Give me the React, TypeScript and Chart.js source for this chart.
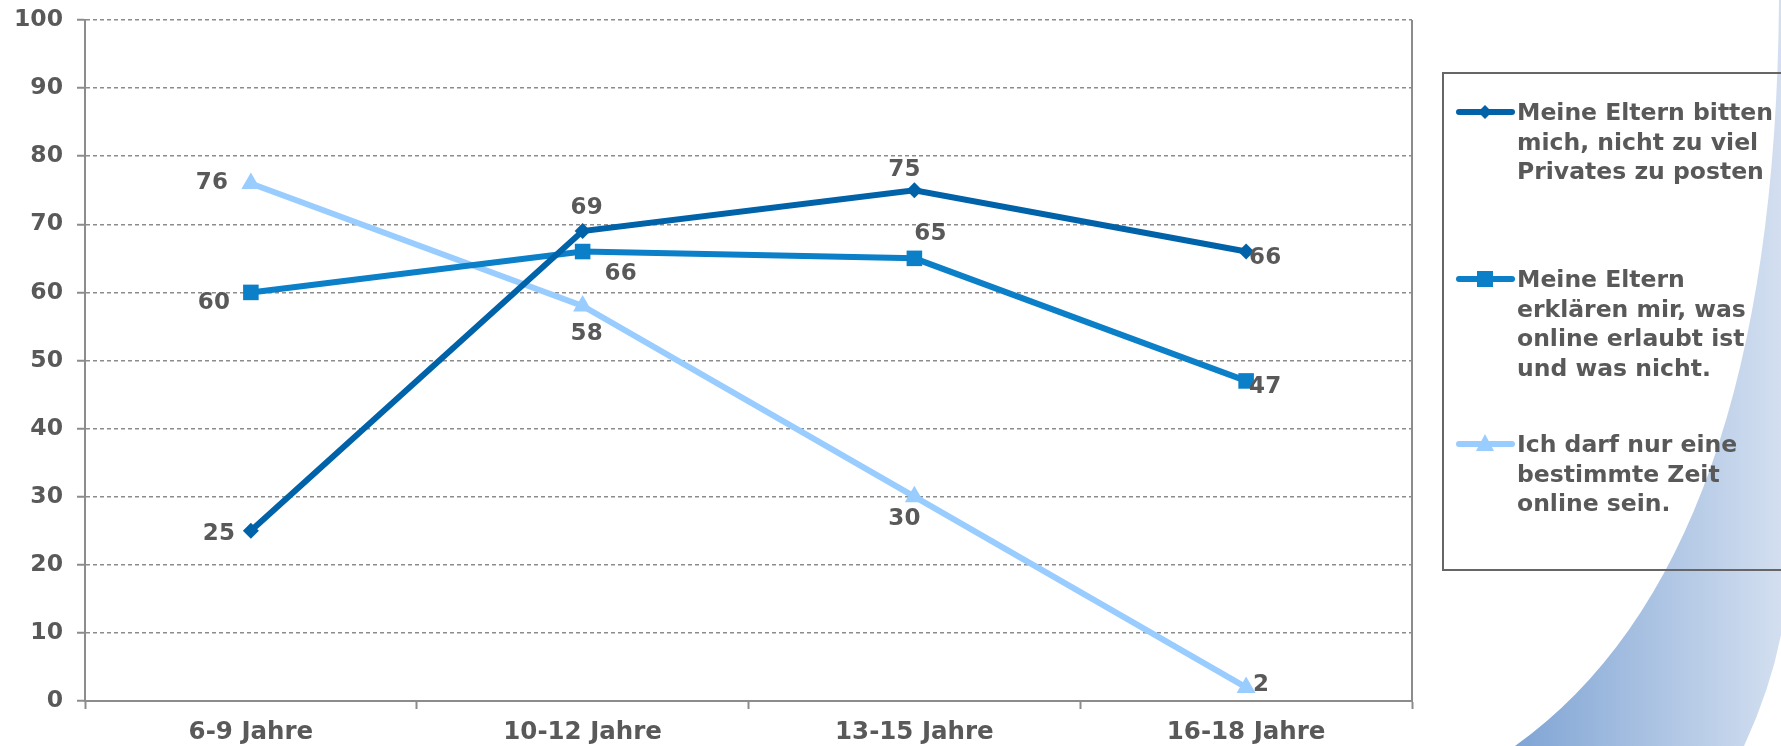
import React, { useEffect, useRef } from "react";
import { Chart, registerables } from "chart.js";

Chart.register(...registerables);

// ---- data ----
const categories = ["6-9 Jahre", "10-12 Jahre", "13-15 Jahre", "16-18 Jahre"];
const privatesValues = [25, 69, 75, 66];
const erklaerenValues = [60, 66, 65, 47];
const zeitValues = [76, 58, 30, 2];
const seriesLabels = [
  ["Meine Eltern bitten", "mich, nicht zu viel", "Privates zu posten"],
  ["Meine Eltern", "erklären mir, was", "online erlaubt ist", "und was nicht."],
  ["Ich darf nur eine", "bestimmte Zeit", "online sein."],
];
const yMin = 0;
const yMax = 100;
const yStep = 10;

// ---- styles ----
const colors = ["#0062A8", "#0B7FC7", "#99CCFF"];
const pointStyles = ["rectRot", "rect", "triangle"];
const pointRadii = [8, 11, 11];
const TEXT = "#595959";
const GRID = "#8c8c8c";
const FONT = "'DejaVu Sans', Verdana, sans-serif";
// label offsets [dx, dy] from each point
const labelOffsets = [
  [[-32, 3], [4, -23], [-10, -20], [19, 6]],
  [[-37, 11], [38, 22], [16, -24], [19, 6]],
  [[-39, 0], [4, 28], [-10, 22], [15, -2]],
];

const decorPlugin = {
  id: "decor",
  beforeDraw(chart: any) {
    const ctx = chart.ctx;
    ctx.save();
    const g = ctx.createLinearGradient(1515, 0, 1781, 0);
    g.addColorStop(0, "#7fa4d4");
    g.addColorStop(1, "#d3dff0");
    ctx.fillStyle = g;
    ctx.beginPath();
    ctx.moveTo(1779, 0);
    ctx.quadraticCurveTo(1775, 560, 1515, 746);
    ctx.lineTo(1744, 746);
    ctx.quadraticCurveTo(1770, 690, 1781, 635);
    ctx.lineTo(1781, 0);
    ctx.closePath();
    ctx.fill();
    ctx.restore();
  },
  afterDatasetsDraw(chart: any) {
    const ctx = chart.ctx;
    ctx.save();
    ctx.font = `bold 23px ${FONT}`;
    ctx.fillStyle = TEXT;
    ctx.textAlign = "center";
    ctx.textBaseline = "middle";
    chart.data.datasets.forEach((ds: any, i: number) => {
      const meta = chart.getDatasetMeta(i);
      meta.data.forEach((pt: any, j: number) => {
        const [dx, dy] = labelOffsets[i][j];
        ctx.fillText(String(ds.data[j]), pt.x + dx, pt.y + dy);
      });
    });
    ctx.restore();
  },
  afterDraw(chart: any) {
    const ctx = chart.ctx;
    const area = chart.chartArea;
    ctx.save();
    // right border of plot
    ctx.strokeStyle = GRID;
    ctx.lineWidth = 2;
    ctx.beginPath();
    ctx.moveTo(area.right, area.top);
    ctx.lineTo(area.right, area.bottom);
    ctx.stroke();

    // legend box
    ctx.strokeStyle = "#666666";
    ctx.lineWidth = 2;
    ctx.strokeRect(1443, 73, 420, 497);

    const baselines = [120, 287, 452];
    const lineH = 29.5;
    ctx.font = `bold 23.5px ${FONT}`;
    ctx.fillStyle = TEXT;
    ctx.textAlign = "left";
    ctx.textBaseline = "alphabetic";
    seriesLabels.forEach((lines, i) => {
      const y0 = baselines[i];
      const ly = y0 - 8;
      ctx.strokeStyle = colors[i];
      ctx.lineWidth = 6;
      ctx.lineCap = "round";
      ctx.beginPath();
      ctx.moveTo(1459, ly);
      ctx.lineTo(1512, ly);
      ctx.stroke();
      ctx.fillStyle = colors[i];
      const cx = 1485;
      ctx.beginPath();
      if (i === 0) {
        ctx.moveTo(cx, ly - 7);
        ctx.lineTo(cx + 7, ly);
        ctx.lineTo(cx, ly + 7);
        ctx.lineTo(cx - 7, ly);
      } else if (i === 1) {
        ctx.rect(cx - 8, ly - 8, 16, 16);
      } else {
        ctx.moveTo(cx, ly - 10);
        ctx.lineTo(cx + 9, ly + 7);
        ctx.lineTo(cx - 9, ly + 7);
      }
      ctx.closePath();
      ctx.fill();
      ctx.fillStyle = TEXT;
      lines.forEach((t, k) => ctx.fillText(t, 1517, y0 + k * lineH));
    });
    ctx.restore();
  },
};

export default function App() {
  const ref = useRef<HTMLCanvasElement | null>(null);
  useEffect(() => {
    const seriesData = [privatesValues, erklaerenValues, zeitValues];
    const chart = new Chart(ref.current as HTMLCanvasElement, {
      type: "line",
      data: {
        labels: categories,
        datasets: seriesData.map((d, i) => ({
          label: seriesLabels[i].join(" "),
          data: d,
          borderColor: colors[i],
          backgroundColor: colors[i],
          borderWidth: 6,
          pointStyle: pointStyles[i] as any,
          pointRadius: pointRadii[i],
          pointBorderWidth: 0,
          tension: 0,
          fill: false,
        })),
      },
      options: {
        responsive: false,
        animation: false,
        layout: { padding: { top: 20, right: 369, left: 0, bottom: 0 } },
        plugins: { legend: { display: false }, tooltip: { enabled: false } },
        scales: {
          x: {
            offset: true,
            grid: {
              offset: true,
              drawOnChartArea: false,
              drawTicks: true,
              tickLength: 8,
              tickColor: GRID,
              tickWidth: 2,
            },
            border: { color: GRID, width: 2 },
            ticks: {
              color: TEXT,
              font: { family: FONT, size: 24.5, weight: "bold" },
              padding: 9,
              maxRotation: 0,
            },
            afterFit(scale: any) {
              scale.height = 45;
              scale.paddingLeft = 0;
              scale.paddingRight = 0;
            },
          },
          y: {
            min: yMin,
            max: yMax,
            ticks: {
              stepSize: yStep,
              color: TEXT,
              font: { family: FONT, size: 23.5, weight: "bold" },
              padding: 14,
            },
            grid: {
              color: GRID,
              lineWidth: 1.5,
              tickLength: 8,
              tickColor: GRID,
              tickWidth: 2,
            },
            border: { color: GRID, width: 2, dash: [4, 3] },
            afterFit(scale: any) {
              scale.width = 85;
              scale.paddingTop = 0;
              scale.paddingBottom = 0;
            },
          },
        },
      },
      plugins: [decorPlugin],
    });
    return () => chart.destroy();
  }, []);
  return (
    <div style={{ position: "absolute", left: 0, top: 0, width: 1781, height: 746 }}>
      <canvas ref={ref} width={1781} height={746} />
    </div>
  );
}
